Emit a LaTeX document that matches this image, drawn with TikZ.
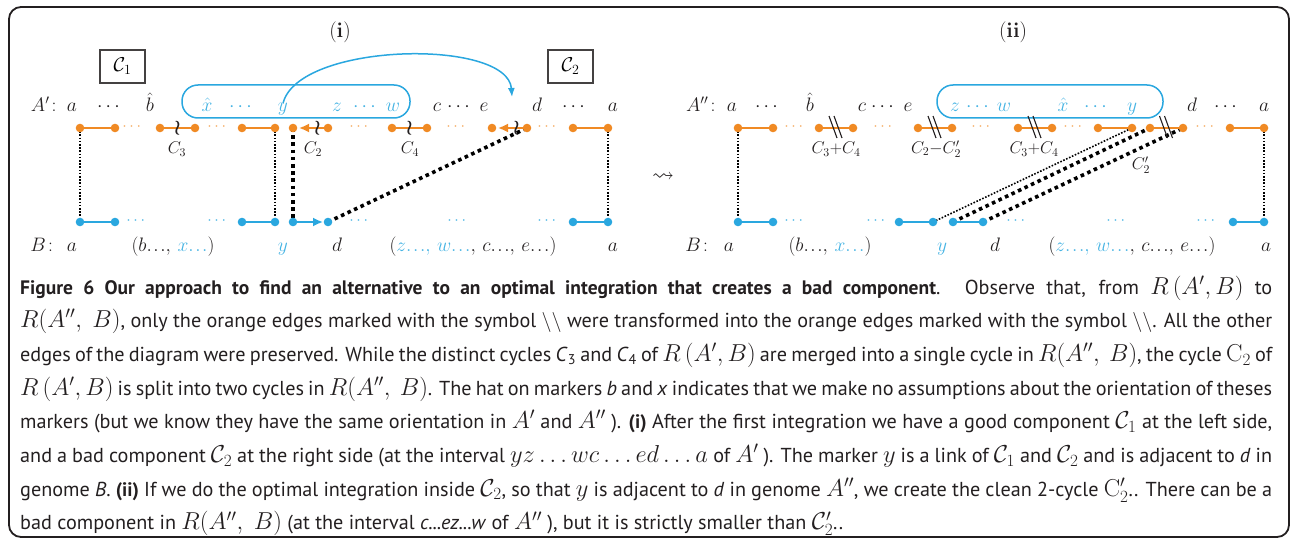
\RequirePackage{fix-cm}
\documentclass[tikz,border=0pt]{standalone}
\usepackage{amsmath,amssymb}
\usepackage[no-math]{fontspec}
\setmainfont{PT Sans}
\usetikzlibrary{arrows.meta}
\definecolor{org}{HTML}{F08A24}
\definecolor{blu}{HTML}{2AA7DF}
\definecolor{blt}{HTML}{45B3E3}
\definecolor{ink}{HTML}{231F20}
\newcommand\MM[1]{{\fontsize{24.5}{24.5}\selectfont$#1$}}
\newcommand\BS{{\fontsize{20}{20}\selectfont$\backslash\backslash$}}
\newcommand\ddd{{.}\mkern1.5mu{.}\mkern1.5mu{.}}
\newcommand\BF[1]{{\fontsize{19.5}{19.5}\selectfont\bfseries #1}}
\begin{document}
\begin{tikzpicture}[x=1pt,y=-1pt,
  lbl/.style={inner sep=0pt, anchor=base, font=\fontsize{19.5}{19.5}\selectfont, text=ink},
  blbl/.style={lbl, text=blt},
  clbl/.style={inner sep=0pt, font=\fontsize{17}{17}\selectfont, text=ink},
  oedge/.style={org, line width=1.8pt},
  bedge/.style={blu, line width=1.8pt},
  odots/.style={inner sep=0pt, text=org!75, font=\fontsize{16}{16}\selectfont},
  bdots/.style={inner sep=0pt, text=blt, font=\fontsize{16}{16}\selectfont},
  thickdot/.style={line width=3.6pt, dash pattern=on 3.6pt off 3.6pt},
  thindot/.style={line width=1.6pt, dash pattern=on 1.6pt off 1.6pt},
  wrmark/.style={inner sep=0pt, text=ink, font=\fontsize{21}{21}\selectfont\boldmath},
  cbox/.style={draw=ink!85, line width=1.3pt, minimum width=45pt, minimum height=33pt, inner sep=0pt, font=\fontsize{20}{20}\selectfont},
  brect/.style={draw=blu, line width=1.5pt, rounded corners=16pt}
]
\useasboundingbox (0,0) rectangle (1292,540);
\draw[ink, line width=1.8pt, rounded corners=12pt] (9,7) rectangle (1289,537);

% titles
\node[lbl, anchor=center, font=\fontsize{21}{21}\selectfont] (ti) at (340,32) {$\mathbf{(i)}$};
\node[lbl, anchor=center, font=\fontsize{21}{21}\selectfont] (tii) at (1013,32) {$\mathbf{(ii)}$};
\node[cbox] (C1) at (122.5,66.5) {$\mathcal{C}_1$};
\node[cbox] (C2) at (570.5,66.5) {$\mathcal{C}_2$};
\node[lbl, anchor=center, font=\fontsize{22}{22}\selectfont] (lead) at (663,177) {$\leadsto$};

% ---------- (i) top labels
\draw[brect] (182,85) rectangle (410,118);
\node[lbl] (pA) at (47,112) {$A'\colon$};
\node[lbl] (a1) at (72,112) {$a$};
\node[lbl] (d1) at (110,112) {$\cdots$};
\node[lbl] (b1) at (150,112) {$\hat b$};
\node[blbl] (x1) at (207,112) {$\hat x$};
\node[blbl] (d2) at (242,112) {$\cdots$};
\node[blbl] (y1) at (283,112) {$y$};
\node[blbl] (z1) at (337,112) {$z$};
\node[blbl] (d3) at (366,112) {$\cdots$};
\node[blbl] (w1) at (393,112) {$w$};
\node[lbl] (c1) at (437,112) {$c$};
\node[lbl] (d4) at (460,112) {$\cdots$};
\node[lbl] (e1) at (484,112) {$e$};
\node[lbl] (dd1) at (537,112) {$d$};
\node[lbl] (d5) at (575,112) {$\cdots$};
\node[lbl] (a2) at (613,112) {$a$};
\coordinate (arcEnd) at (512,97);
\draw[blu, line width=1.5pt, -{Latex[length=9pt,width=7pt]}] (y1.north) .. controls (298,42) and (508,38) .. (arcEnd);

% (i) bottom labels
\node[lbl] (pB) at (45,251) {$B\colon$};
\node[lbl] (a3) at (72,251) {$a$};
\node[lbl] (bx) at (173,251) {$(b\ddd,\,{\color{blt}x\ddd})$};
\node[blbl] (y2) at (283,251) {$y$};
\node[lbl] (dd2) at (337,251) {$d$};
\node[lbl] (zw) at (473,251) {$({\color{blt}z\ddd,\,w\ddd},\,c\ddd,\,e\ddd)$};
\node[lbl] (a4) at (613,251) {$a$};

% (i) orange coordinates
\foreach \n/\x in {1/80,2/115,3/160,4/195,5/242,6/275,7/293,8/328,9/392,10/427,11/492,12/527,13/573,14/608}
  \coordinate (o\n) at (\x,128);
\foreach \n/\x in {1/80,2/115,3/242,4/275,5/293,6/328,7/573,8/608}
  \coordinate (b\n) at (\x,222);

% dotted connectors (i)
\draw[thindot] (o1) -- (b1);
\draw[thindot] (o6) -- (b4);
\draw[thindot] (o14) -- (b8);
\draw[thickdot] (o7) -- (b5);
\draw[thickdot] (b6) -- (o12);

% orange edges (i)
\draw[oedge] (o1) -- (o2);
\draw[oedge] (o3) -- node[wrmark]{$\wr$} (o4);
\draw[oedge] (o5) -- (o6);
\draw[oedge, -{Latex[length=10pt,width=9pt]}, shorten >=6pt] (o8) -- node[wrmark, pos=0.3]{$\wr$} (o7);
\draw[oedge] (o9) -- node[wrmark]{$\wr$} (o10);
\draw[oedge, -{Latex[length=10pt,width=9pt]}, shorten >=6pt] (o12) -- node[wrmark, pos=0.3]{$\wr$} (o11);
\draw[oedge] (o13) -- (o14);
\foreach \n in {1,...,14} \fill[org] (o\n) circle (4.3pt);
\node[odots] (od1) at (133,127) {$\cdots$};
\node[odots] (od2) at (218,127) {$\cdots$};
\node[odots] (od3) at (360,127) {$\cdots$};
\node[odots] (od4) at (457,127) {$\cdots$};
\node[odots] (od5) at (548,127) {$\cdots$};
\node[clbl] (lc3) at (177,149) {$C_3$};
\node[clbl] (lc2) at (313,149) {$C_2$};
\node[clbl] (lc4) at (410,149) {$C_4$};

% blue edges (i)
\draw[bedge] (b1) -- (b2);
\draw[bedge] (b3) -- (b4);
\draw[bedge, -{Latex[length=10pt,width=9pt]}, shorten >=5pt] (b5) -- (b6);
\draw[bedge] (b7) -- (b8);
\foreach \n in {1,...,8} \fill[blu] (b\n) circle (4.3pt);
\node[bdots] (bd1) at (137,221) {$\cdots$};
\node[bdots] (bd2) at (218,221) {$\cdots$};
\node[bdots] (bd3) at (360,221) {$\cdots$};
\node[bdots] (bd4) at (458,221) {$\cdots$};
\node[bdots] (bd5) at (548,221) {$\cdots$};

% ---------- (ii) top labels
\draw[brect] (937,85) rectangle (1163,118);
\node[lbl] (pA2) at (704,112) {$A''\colon$};
\node[lbl] (a5) at (732,112) {$a$};
\node[lbl] (d6) at (768,112) {$\cdots$};
\node[lbl] (b2l) at (810,112) {$\hat b$};
\node[lbl] (c2) at (862,112) {$c$};
\node[lbl] (d7) at (884,112) {$\cdots$};
\node[lbl] (e2) at (908,112) {$e$};
\node[blbl] (z2) at (955,112) {$z$};
\node[blbl] (d8) at (979,112) {$\cdots$};
\node[blbl] (w2) at (1004,112) {$w$};
\node[blbl] (x2) at (1063,112) {$\hat x$};
\node[blbl] (d9) at (1097,112) {$\cdots$};
\node[blbl] (y3) at (1132,112) {$y$};
\node[lbl] (dd3) at (1192,112) {$d$};
\node[lbl] (d10) at (1227,112) {$\cdots$};
\node[lbl] (a6) at (1264,112) {$a$};

% (ii) bottom labels
\node[lbl] (pB2) at (700,251) {$B\colon$};
\node[lbl] (a7) at (729,251) {$a$};
\node[lbl] (bx2) at (830,251) {$(b\ddd,\,{\color{blt}x\ddd})$};
\node[blbl] (y4) at (942,251) {$y$};
\node[lbl] (dd4) at (995,251) {$d$};
\node[lbl] (zw2) at (1132,251) {$({\color{blt}z\ddd,\,w\ddd},\,c\ddd,\,e\ddd)$};
\node[lbl] (a8) at (1266,251) {$a$};

\foreach \n/\x in {1/738,2/773,3/819,4/853,5/918,6/952,7/1018,8/1052,9/1098,10/1132,11/1150,12/1183,13/1230,14/1264}
  \coordinate (p\n) at (\x,128);
\foreach \n/\x in {1/738,2/773,3/899,4/933,5/953,6/983,7/1233,8/1264}
  \coordinate (q\n) at (\x,222);

\draw[thindot] (p1) -- (q1);
\draw[thindot] (p14) -- (q8);
\draw[thindot] (q4) -- (p10);
\draw[thickdot] (q5) -- (p11);
\draw[thickdot] (q6) -- (p12);

\draw[oedge] (p1) -- (p2);
\draw[oedge] (p3) -- coordinate (m1) (p4);
\draw[oedge] (p5) -- coordinate (m2) (p6);
\draw[oedge] (p7) -- coordinate (m3) (p8);
\draw[oedge] (p9) -- (p10);
\draw[oedge] (p11) -- coordinate (m4) (p12);
\draw[oedge] (p13) -- (p14);
\foreach \n in {1,...,14} \fill[org] (p\n) circle (4.3pt);
\foreach \m in {m1,m2,m3,m4} {
  \draw[ink, line width=1.1pt] ([shift={(-7,-12)}]\m) -- ([shift={(1,10)}]\m);
  \draw[ink, line width=1.1pt] ([shift={(-2,-12)}]\m) -- ([shift={(6,10)}]\m);
}
\node[odots] (pd1) at (795,127) {$\cdots$};
\node[odots] (pd2) at (884,127) {$\cdots$};
\node[odots] (pd3) at (982,127) {$\cdots$};
\node[odots] (pd4) at (1074,127) {$\cdots$};
\node[odots] (pd5) at (1206,127) {$\cdots$};
\node[clbl] (l34a) at (836,149) {$C_3{+}C_4$};
\node[clbl] (l22) at (936,149) {$C_2{-}C_2'$};
\node[clbl] (l34b) at (1034,149) {$C_3{+}C_4$};
\node[clbl] (l2p) at (1141,165) {$C_2'$};

\draw[bedge] (q1) -- (q2);
\draw[bedge] (q3) -- (q4);
\draw[bedge] (q5) -- (q6);
\draw[bedge] (q7) -- (q8);
\foreach \n in {1,...,8} \fill[blu] (q\n) circle (4.3pt);
\node[bdots] (qd1) at (795,221) {$\cdots$};
\node[bdots] (qd2) at (877,221) {$\cdots$};
\node[bdots] (qd3) at (1017,221) {$\cdots$};
\node[bdots] (qd4) at (1117,221) {$\cdots$};
\node[bdots] (qd5) at (1207,221) {$\cdots$};

% ---------- caption
\node[anchor=base west, inner sep=0pt, text width=1252pt, align=justify, text=ink,
      font=\fontsize{20.2}{33.7}\selectfont] (cap) at (20,294) {%
\BF{Figure 6 Our approach to find an alternative to an optimal integration that creates a bad component}. Observe that, from \MM{R\left(A',B\right)} to\linebreak
\MM{R(A'',\ B)}, only the orange edges marked with the symbol \BS\ were transformed into the orange edges marked with the symbol \BS. All the other\linebreak
edges of the diagram were preserved. While the distinct cycles \textit{C}\textsubscript{3} and \textit{C}\textsubscript{4} of \MM{R\left(A',B\right)} are merged into a single cycle in \MM{R(A'',\ B)}, the cycle \MM{\mathrm{C}_2} of\linebreak
\MM{R\left(A',B\right)} is split into two cycles in \MM{R(A'',\ B)}. The hat on markers \textit{b} and \textit{x} indicates that we make no assumptions about the orientation of theses\linebreak
markers (but we know they have the same orientation in \MM{A'} and \MM{A''} ). \BF{(i)} After the first integration we have a good component \MM{\mathcal{C}_1} at the left side,\linebreak
and a bad component \MM{\mathcal{C}_2} at the right side (at the interval \MM{yz\ldots wc\ldots ed\ldots a} of \MM{A'} ). The marker \MM{y} is a link of \MM{\mathcal{C}_1} and \MM{\mathcal{C}_2} and is adjacent to \textit{d} in\linebreak
genome \textit{B}. \BF{(ii)} If we do the optimal integration inside \MM{\mathcal{C}_2}, so that \MM{y} is adjacent to \textit{d} in genome \MM{A''}, we create the clean 2-cycle \MM{\mathrm{C}'_2}.. There can be a\linebreak
bad component in \MM{R(A'',\ B)} (at the interval \textit{c...ez...w} of \MM{A''} ), but it is strictly smaller than \MM{\mathcal{C}'_2}..};
\end{tikzpicture}
\end{document}
